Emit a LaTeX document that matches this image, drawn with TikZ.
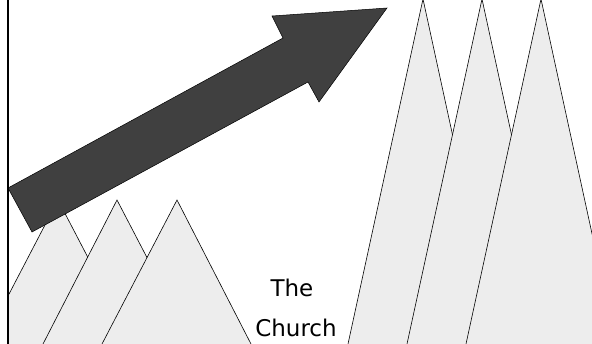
\documentclass[tikz,border=0pt]{standalone}
\usepackage{fontspec}
\setmainfont{DejaVu Sans}
\usepackage{tikz}
\usetikzlibrary{positioning}
\definecolor{peakgray}{RGB}{237,237,237}
\definecolor{arrowgray}{RGB}{64,64,64}

\begin{document}
\begin{tikzpicture}[x=1pt, y=-1pt,
    peak/.style={fill=peakgray, draw=black, line width=0.6pt, line join=miter},
    bigarrow/.style={fill=arrowgray, draw=black, line width=0.5pt},
    word/.style={font=\fontsize{23}{27}\selectfont, inner sep=0pt, anchor=base}]
    \useasboundingbox (0,0) rectangle (592,344);
    \begin{scope}
    \clip (8,0) rectangle (592,344);
    % Small peaks, left
    \draw[peak] (-17,344) -- (58,200) -- (133,344);
    \draw[peak] (43,344) -- (117,200) -- (192,344);
    \draw[peak] (102,344) -- (177,200) -- (251,344);
    % Tall peaks, right
    \draw[peak] (348,344) -- (423,-1) -- (498,344);
    \draw[peak] (407,344) -- (482,-1) -- (557,344);
    \draw[peak] (466,344) -- (541,-1) -- (616,344);
    % Arrow pointing up to the right
    \draw[bigarrow] (8,188) -- (283,38) -- (272,16) -- (387,8)
      -- (319,102) -- (308,82) -- (32,232) -- cycle;
    \end{scope}
    % Left border line
    \draw[line width=1.6pt] (8,0) -- (8,344);
    % Label
    \node[word] (the) at (292,297) {The};
    \node[word] (church) at (296,337) {Church};
  \end{tikzpicture}
\end{document}
